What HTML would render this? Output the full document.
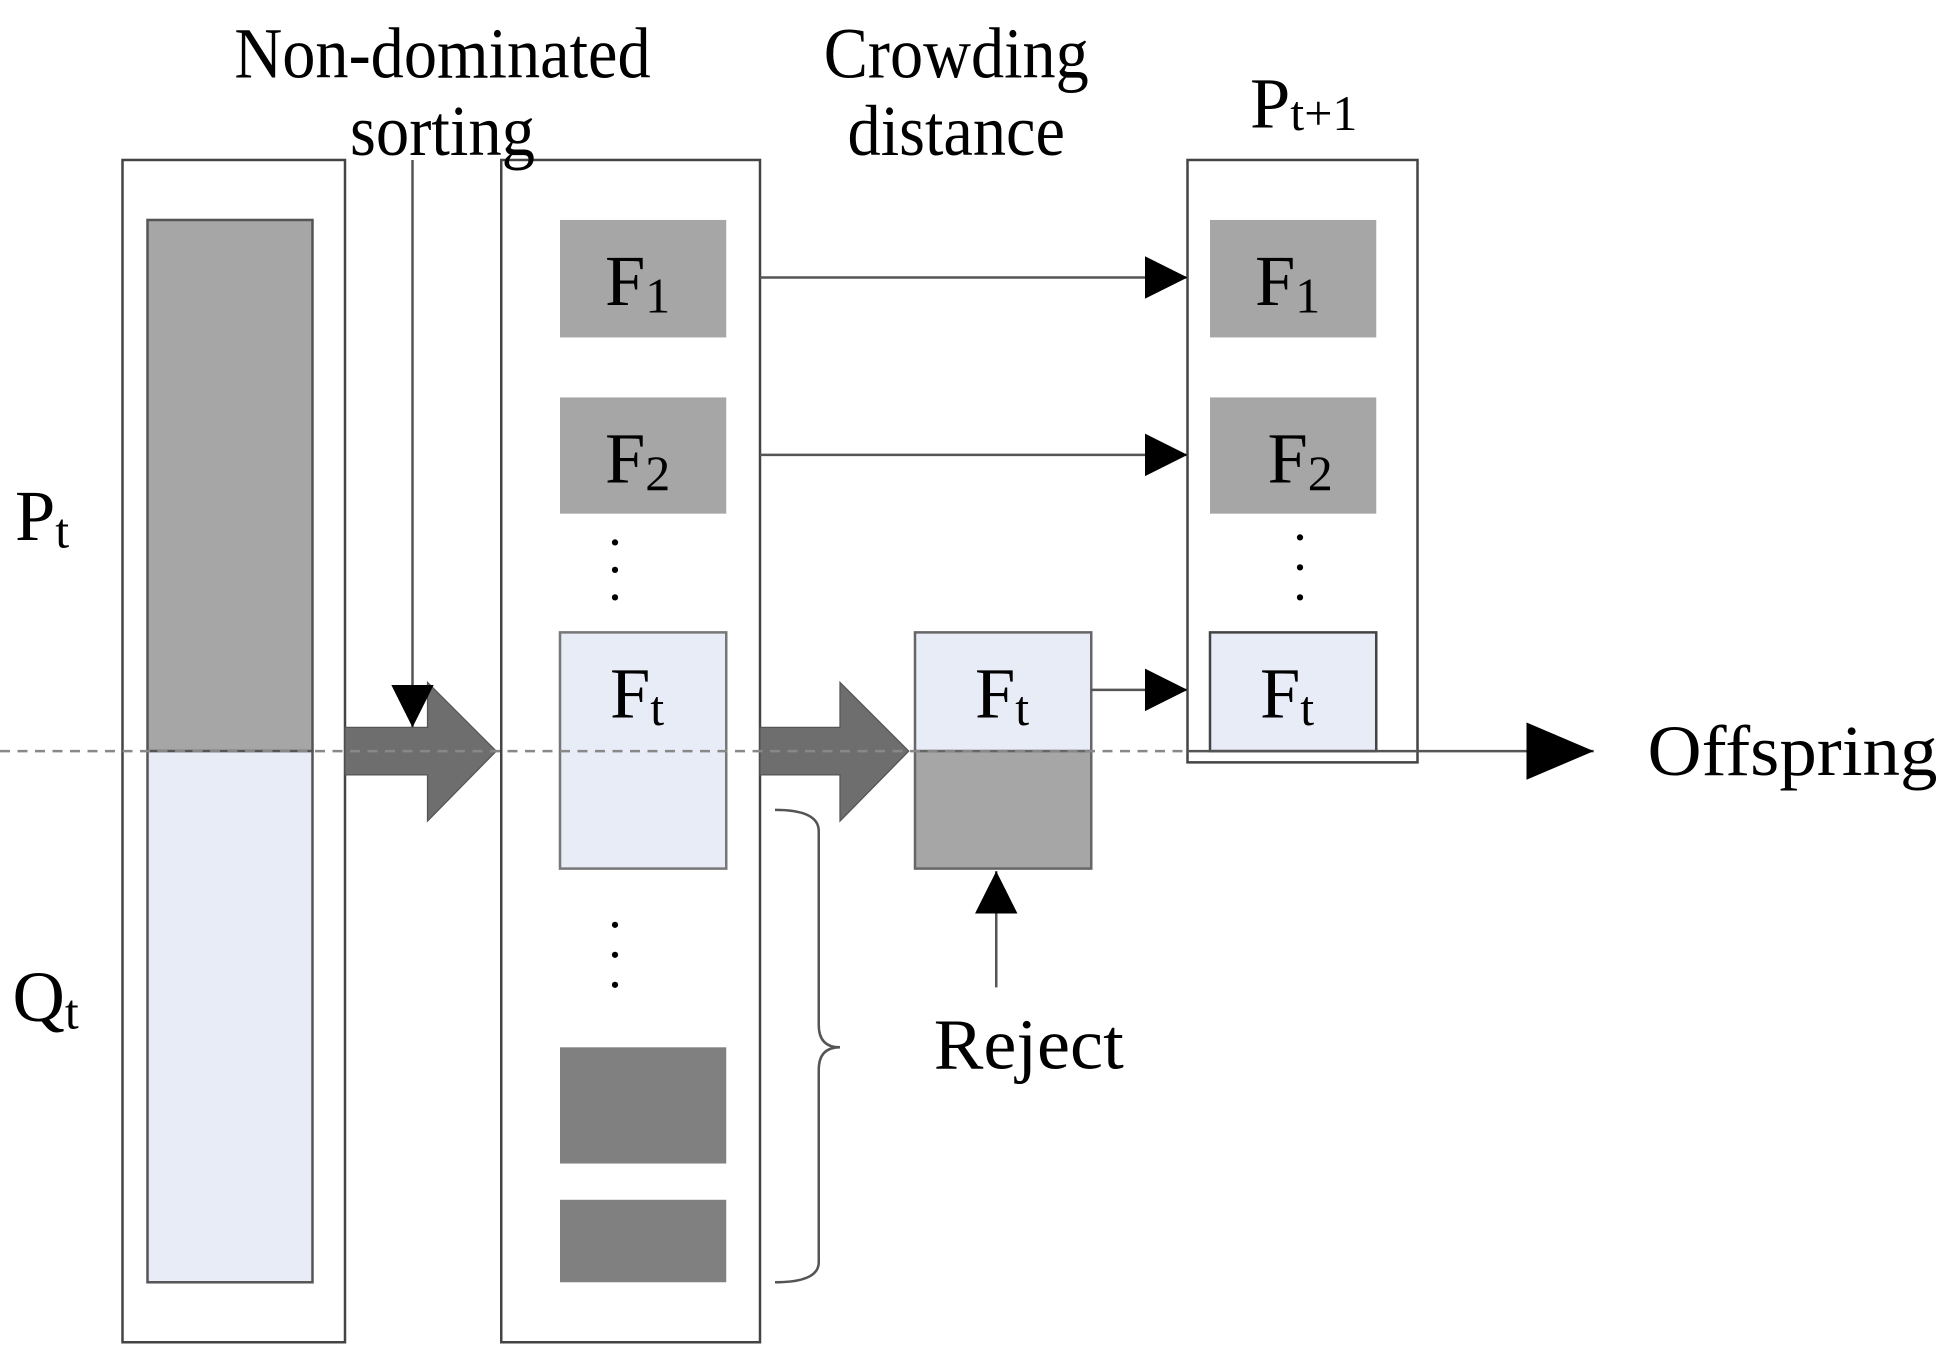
<!DOCTYPE html>
<html><head><style>body{margin:0;background:#fff}svg{display:block}text{font-family:"Liberation Serif",serif;fill:#000}</style></head><body>
<svg width="1960" height="1371" viewBox="0 0 1568 1097" preserveAspectRatio="none" xmlns="http://www.w3.org/2000/svg">
<defs><marker id="a" markerWidth="34" markerHeight="34" refX="34" refY="17" orient="auto" markerUnits="userSpaceOnUse" viewBox="0 0 34 34"><path d="M0,0L34,17L0,34z" fill="#000"/></marker>
<marker id="b" markerWidth="54" markerHeight="46" refX="54" refY="23" orient="auto" markerUnits="userSpaceOnUse" viewBox="0 0 54 46"><path d="M0,0L54,23L0,46z" fill="#000"/></marker></defs>
<g stroke="#444" stroke-width="2" fill="none">
<rect x="98" y="128" width="178" height="946" fill="#fff"/>
<rect x="401" y="128" width="207" height="946" fill="#fff"/>
<rect x="950" y="128" width="184" height="482" fill="#fff"/>
</g>
<rect x="118" y="176" width="132" height="425" fill="#a6a6a6" stroke="#555" stroke-width="2"/>
<rect x="118" y="601" width="132" height="425" fill="#e8ecf6" stroke="#555" stroke-width="2"/>
<rect x="448" y="176" width="133" height="94" fill="#a6a6a6"/>
<rect x="448" y="318" width="133" height="93" fill="#a6a6a6"/>
<rect x="448" y="506" width="133" height="189" fill="#e8ecf6" stroke="#777" stroke-width="2"/>
<rect x="448" y="838" width="133" height="93" fill="#808080"/>
<rect x="448" y="960" width="133" height="66" fill="#808080"/>
<rect x="968" y="176" width="133" height="94" fill="#a6a6a6"/>
<rect x="968" y="318" width="133" height="93" fill="#a6a6a6"/>
<rect x="968" y="506" width="133" height="95" fill="#e8ecf6" stroke="#444" stroke-width="2"/>
<rect x="732" y="506" width="141" height="95" fill="#e8ecf6" stroke="#666" stroke-width="2"/>
<rect x="732" y="601" width="141" height="94" fill="#a6a6a6" stroke="#666" stroke-width="2"/>
<g fill="#000"><circle cx="492" cy="434" r="2.5"/><circle cx="492" cy="456" r="2.5"/><circle cx="492" cy="478" r="2.5"/>
<circle cx="492" cy="740" r="2.5"/><circle cx="492" cy="764" r="2.5"/><circle cx="492" cy="788" r="2.5"/>
<circle cx="1040" cy="430" r="2.5"/><circle cx="1040" cy="454" r="2.5"/><circle cx="1040" cy="478" r="2.5"/></g>
<path d="M276,582H342V546L397,601L342,657V620H276z" fill="#6e6e6e" stroke="#555"/>
<path d="M608,582H672V546L727,601L672,657V620H608z" fill="#6e6e6e" stroke="#555"/>
<line x1="0" y1="601" x2="950" y2="601" stroke="#888" stroke-width="2" stroke-dasharray="8,6"/>
<g stroke="#555" stroke-width="2" fill="none">
<line x1="330" y1="128" x2="330" y2="582" marker-end="url(#a)"/>
<line x1="608" y1="222" x2="950" y2="222" marker-end="url(#a)"/>
<line x1="608" y1="364" x2="950" y2="364" marker-end="url(#a)"/>
<line x1="873" y1="552" x2="950" y2="552" marker-end="url(#a)"/>
<line x1="950" y1="601" x2="1275" y2="601" marker-end="url(#b)"/>
<line x1="797" y1="790" x2="797" y2="697" marker-end="url(#a)"/>
<path d="M620,648Q655,648 655,665V820Q655,838 672,838Q655,838 655,856V1010Q655,1026 620,1026"/>
</g>
<g font-size="58" text-anchor="middle" lengthAdjust="spacingAndGlyphs">
<text x="354" y="62" textLength="333" lengthAdjust="spacingAndGlyphs">Non-dominated</text><text x="354" y="124" textLength="148" lengthAdjust="spacingAndGlyphs">sorting</text>
<text x="765" y="62" textLength="212" lengthAdjust="spacingAndGlyphs">Crowding</text><text x="765" y="124" textLength="174" lengthAdjust="spacingAndGlyphs">distance</text>
<text x="823" y="855" textLength="152" lengthAdjust="spacingAndGlyphs">Reject</text>
</g>
<g font-size="58">
<text x="1318" y="620" textLength="232" lengthAdjust="spacingAndGlyphs">Offspring</text>
<text x="12" y="432">P<tspan font-size="40" dy="6">t</tspan></text>
<text x="10" y="817">Q<tspan font-size="40" dy="6">t</tspan></text>
<text x="1000" y="102">P<tspan font-size="40" dy="2">t+1</tspan></text>
<text x="484" y="244">F<tspan font-size="40" dy="6">1</tspan></text>
<text x="484" y="386">F<tspan font-size="40" dy="6">2</tspan></text>
<text x="488" y="574">F<tspan font-size="40" dy="6">t</tspan></text>
<text x="780" y="574">F<tspan font-size="40" dy="6">t</tspan></text>
<text x="1004" y="244">F<tspan font-size="40" dy="6">1</tspan></text>
<text x="1014" y="386">F<tspan font-size="40" dy="6">2</tspan></text>
<text x="1008" y="574">F<tspan font-size="40" dy="6">t</tspan></text>
</g>
</svg></body></html>
